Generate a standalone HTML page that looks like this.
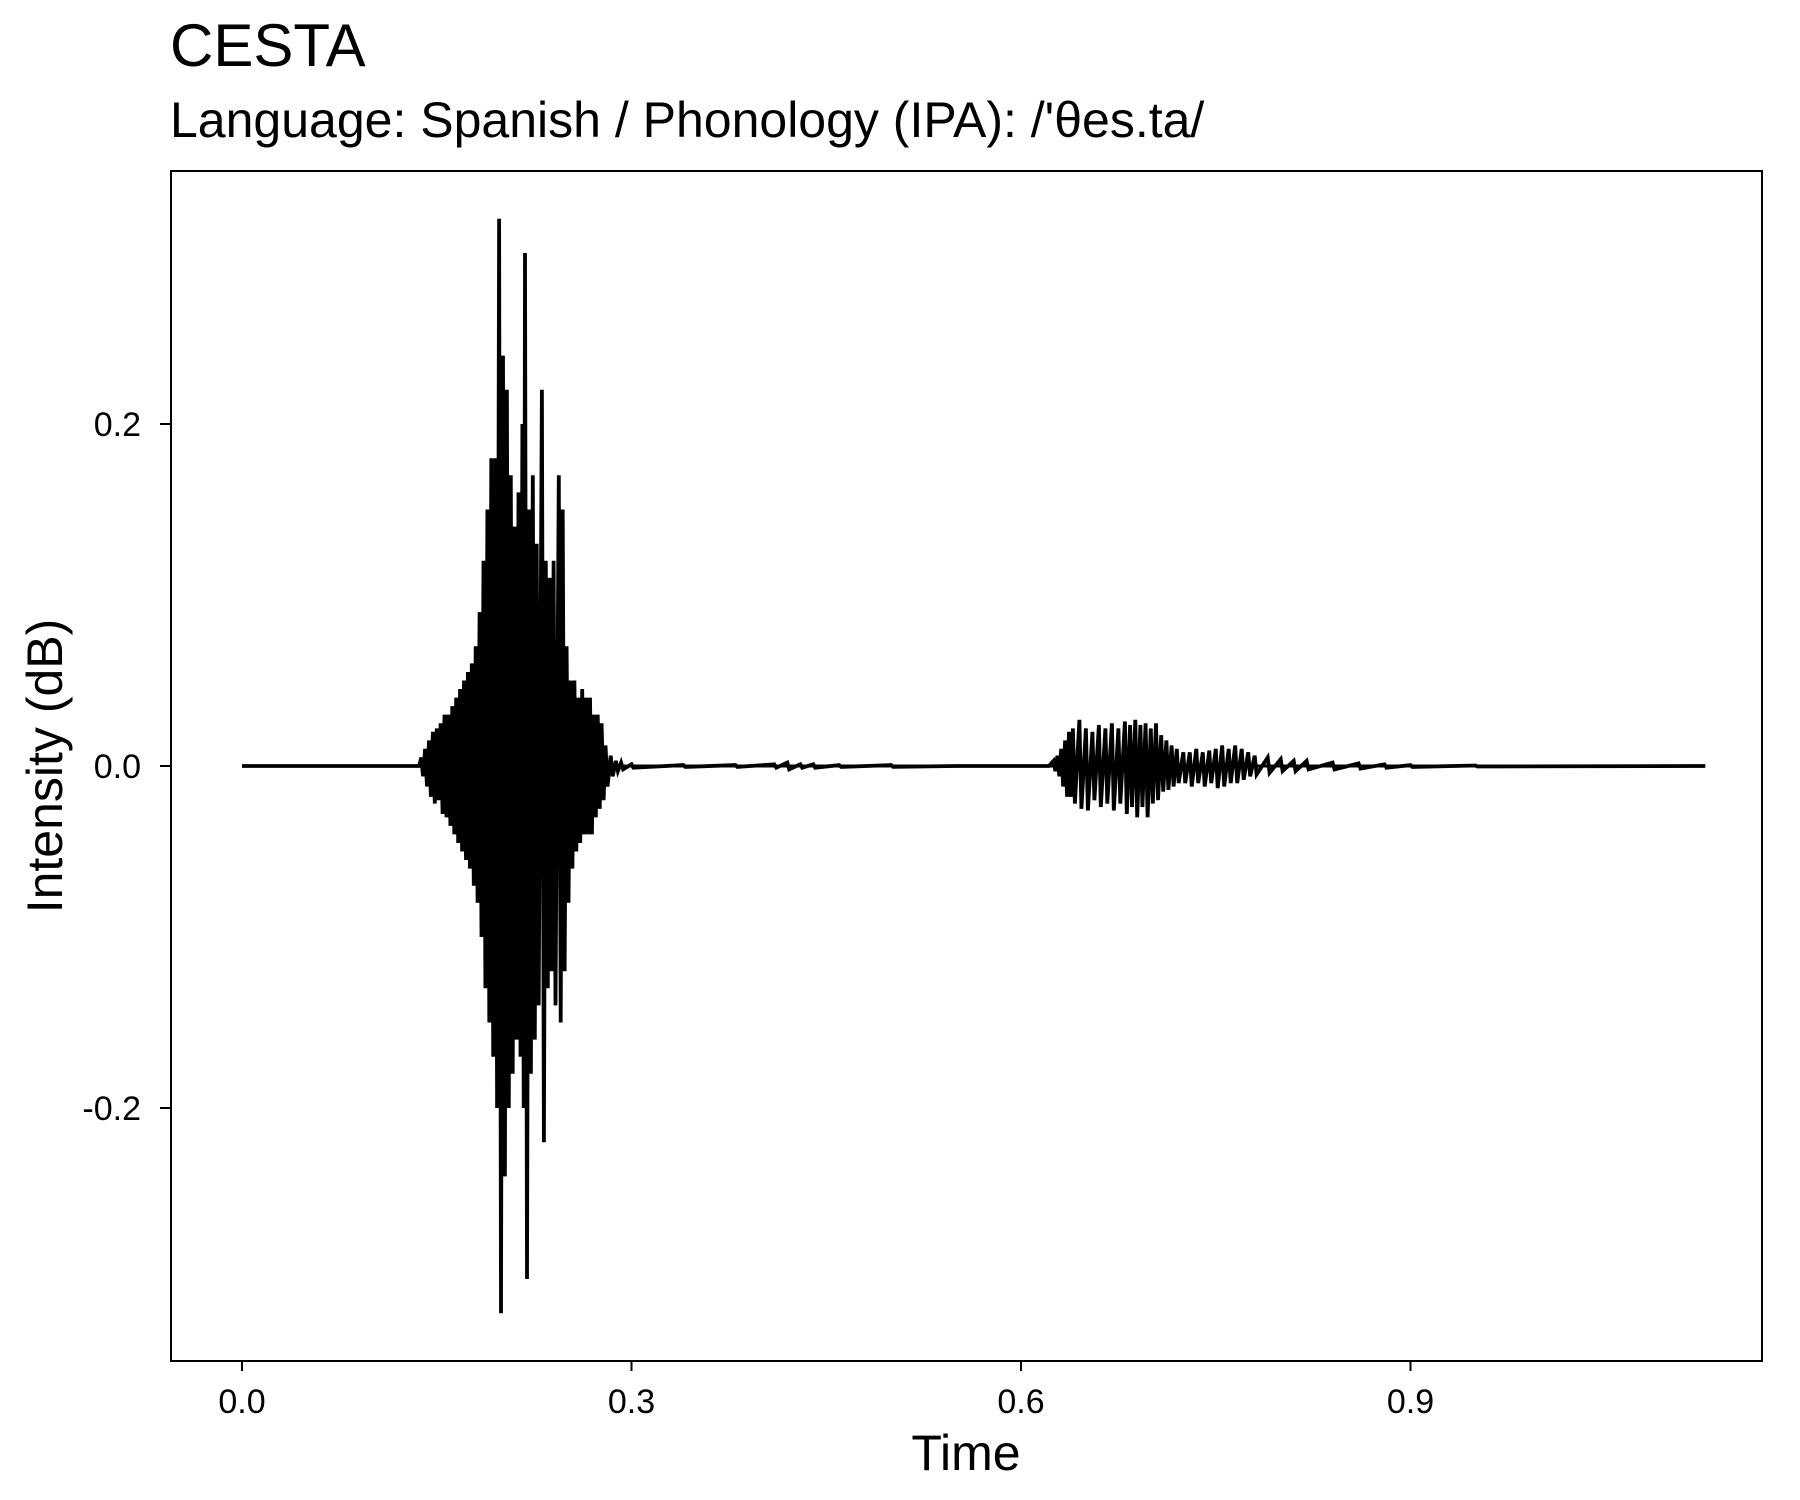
<!DOCTYPE html>
<html><head><meta charset="utf-8"><style>
html,body{margin:0;padding:0;background:#fff;}
svg{display:block;font-family:"Liberation Sans",Arial,sans-serif;}
</style></head><body>
<svg id="chart" width="1800" height="1500" viewBox="0 0 1800 1500">
<rect width="1800" height="1500" fill="#fff"/>
<text x="170" y="66" font-size="60">CESTA</text>
<text x="170" y="137" font-size="50">Language: Spanish / Phonology (IPA): /'θes.ta/</text>
<g id="plot"></g>
<rect x="171" y="171" width="1591" height="1190" fill="none" stroke="#000" stroke-width="2"/>
<text x="966" y="1470" font-size="50" text-anchor="middle">Time</text>
<text transform="translate(62,766) rotate(-90)" font-size="50" text-anchor="middle">Intensity (dB)</text>
</svg>
<script>
const times = [0.000,0.135,0.138,0.141,0.144,0.147,0.150,0.153,0.156,0.159,0.162,0.165,0.168,0.171,0.174,0.177,0.180,0.183,0.186,0.189,0.192,0.195,0.198,0.201,0.204,0.207,0.210,0.213,0.216,0.218,0.221,0.224,0.227,0.231,0.234,0.237,0.240,0.244,0.247,0.250,0.253,0.256,0.259,0.262,0.265,0.268,0.271,0.274,0.277,0.280,0.284,0.288,0.292,0.300,0.340,0.380,0.410,0.420,0.430,0.440,0.460,0.500,0.550,0.620,0.625,0.628,0.631,0.634,0.637,0.640,0.645,0.650,0.655,0.660,0.665,0.670,0.675,0.680,0.684,0.688,0.692,0.696,0.700,0.704,0.708,0.712,0.716,0.720,0.725,0.730,0.735,0.740,0.745,0.750,0.755,0.760,0.765,0.770,0.775,0.780,0.790,0.800,0.810,0.820,0.840,0.860,0.880,0.900,0.950,1.127];
const upperValues = [0,0,0.005,0.01,0.015,0.02,0.022,0.025,0.03,0.03,0.035,0.04,0.045,0.05,0.055,0.06,0.07,0.09,0.12,0.15,0.18,0.18,0.32,0.24,0.22,0.17,0.14,0.16,0.2,0.30,0.15,0.17,0.13,0.22,0.12,0.11,0.12,0.17,0.15,0.07,0.05,0.05,0.04,0.045,0.04,0.04,0.03,0.03,0.025,0.012,0.006,0.003,0.002,0.001,0.0005,0.0005,0.001,0.002,0.001,0.001,0.0005,0.0005,0,0,0.003,0.006,0.01,0.015,0.02,0.022,0.027,0.022,0.02,0.024,0.022,0.025,0.022,0.026,0.024,0.027,0.024,0.025,0.022,0.025,0.018,0.015,0.012,0.01,0.008,0.008,0.01,0.008,0.009,0.01,0.012,0.01,0.012,0.01,0.008,0.006,0.005,0.004,0.003,0.003,0.002,0.0015,0.001,0.0005,0.0003,0];
const lowerValues = [0,0,-0.006,-0.012,-0.018,-0.022,-0.02,-0.028,-0.03,-0.035,-0.04,-0.045,-0.05,-0.055,-0.06,-0.07,-0.08,-0.1,-0.13,-0.15,-0.17,-0.2,-0.32,-0.24,-0.2,-0.18,-0.16,-0.17,-0.2,-0.30,-0.18,-0.16,-0.14,-0.22,-0.13,-0.12,-0.14,-0.15,-0.12,-0.08,-0.06,-0.05,-0.045,-0.04,-0.04,-0.04,-0.03,-0.025,-0.02,-0.012,-0.006,-0.003,-0.002,-0.001,-0.0005,-0.0005,-0.001,-0.002,-0.001,-0.001,-0.0005,-0.0005,0,0,-0.003,-0.006,-0.012,-0.018,-0.018,-0.022,-0.025,-0.026,-0.02,-0.024,-0.022,-0.026,-0.022,-0.028,-0.024,-0.03,-0.024,-0.03,-0.022,-0.02,-0.015,-0.014,-0.012,-0.01,-0.01,-0.012,-0.01,-0.012,-0.01,-0.013,-0.012,-0.01,-0.01,-0.008,-0.006,-0.005,-0.004,-0.003,-0.003,-0.002,-0.002,-0.0015,-0.001,-0.0005,-0.0003,0];
const xTicks = [0.0,0.3,0.6,0.9];
const xTickLabels = ["0.0","0.3","0.6","0.9"];
const yTicks = [-0.2,0.0,0.2];
const yTickLabels = ["-0.2","0.0","0.2"];

const NS="http://www.w3.org/2000/svg";
const X = t => 242 + t/0.3*389.5;
const Y = v => 766 - v/0.2*342;
const g = document.getElementById('plot');

let pts=[];
for(let i=0;i<times.length;i++){
  const t=times[i];
  const nt = i<times.length-1 ? times[i+1] : t;
  const half = Math.min((nt-t)/2, 0.0015);
  pts.push(X(t).toFixed(1)+','+Y(upperValues[i]).toFixed(1));
  pts.push(X(t+half).toFixed(1)+','+Y(lowerValues[i]).toFixed(1));
}
const base=document.createElementNS(NS,'line');


base.setAttribute('x1',X(times[0]));base.setAttribute('x2',X(times[times.length-1]));
base.setAttribute('y1',Y(0));base.setAttribute('y2',Y(0));
base.setAttribute('stroke','#000');base.setAttribute('stroke-width','3');
g.appendChild(base);
const pl=document.createElementNS(NS,'polyline');


pl.setAttribute('points',pts.join(' '));
pl.setAttribute('fill','none');pl.setAttribute('stroke','#000');pl.setAttribute('stroke-width','3.8');
g.appendChild(pl);

xTicks.forEach((t,i)=>{
  const l=document.createElementNS(NS,'line');
  
  
  l.setAttribute('x1',X(t));l.setAttribute('x2',X(t));l.setAttribute('y1',1361);l.setAttribute('y2',1371);
  l.setAttribute('stroke','#000');l.setAttribute('stroke-width','2');
  g.appendChild(l);
  const tx=document.createElementNS(NS,'text');
  
  
  tx.setAttribute('x',X(t));tx.setAttribute('y',1413);tx.setAttribute('font-size','34');tx.setAttribute('text-anchor','middle');
  tx.textContent=xTickLabels[i];
  g.appendChild(tx);
});
yTicks.forEach((v,i)=>{
  const l=document.createElementNS(NS,'line');
  
  
  l.setAttribute('x1',160);l.setAttribute('x2',171);l.setAttribute('y1',Y(v));l.setAttribute('y2',Y(v));
  l.setAttribute('stroke','#000');l.setAttribute('stroke-width','2');
  g.appendChild(l);
  const tx=document.createElementNS(NS,'text');
  
  
  tx.setAttribute('x',141);tx.setAttribute('y',Y(v)+12);tx.setAttribute('font-size','34');tx.setAttribute('text-anchor','end');
  tx.textContent=yTickLabels[i];
  g.appendChild(tx);
});
</script>
</body></html>
